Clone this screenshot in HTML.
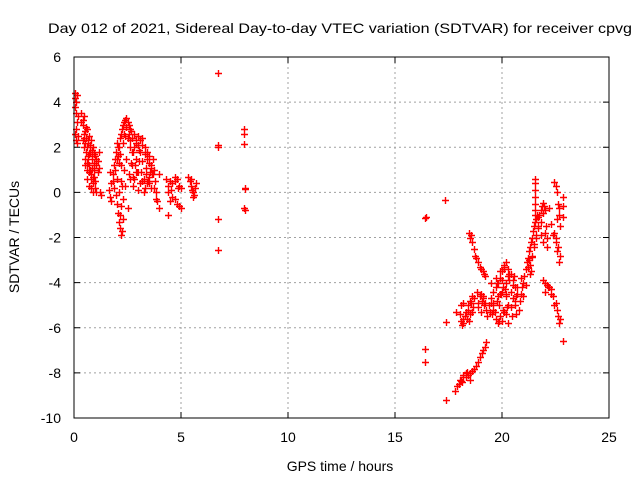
<!DOCTYPE html>
<html><head><meta charset="utf-8"><style>
body{margin:0;background:#fff}
svg{display:block;font-family:"Liberation Sans",sans-serif}
</style></head><body>
<svg id="chart" width="640" height="480">
<rect width="640" height="480" fill="#fff"/>
<text x="340" y="33" text-anchor="middle" font-size="14" textLength="584" lengthAdjust="spacingAndGlyphs">Day 012 of 2021, Sidereal Day-to-day VTEC variation (SDTVAR) for receiver cpvg</text>
<g id="grid"></g>
<g id="ticks"></g>
<g id="marks"></g>
<rect x="74" y="57" width="535" height="361" fill="none" stroke="#000" stroke-width="1"/>
<text x="340" y="471" text-anchor="middle" font-size="14">GPS time / hours</text>
<text x="19" y="237" text-anchor="middle" font-size="14" transform="rotate(-90 19 237)">SDTVAR / TECUs</text>
</svg>
<script>
const xTicks=[0,5,10,15,20,25];
const yTicks=[-10,-8,-6,-4,-2,0,2,4,6];
const hours=[
0.05,0.1,0.15,0.1,0.05,0.1,0.15,0.2,0.05,0.05,0.12,0.18,0.08,
0.35,0.4,0.5,0.55,0.6,0.65,0.7,0.8,0.9,1.0,1.05,0.45,0.5,0.6,0.7,0.8,0.9,1.0,1.1,0.6,0.75,0.85,0.95,1.05,0.5,0.7,0.8,1.2,1.25,0.4,0.55,0.65,0.75,0.85,0.95,1.15,0.45,0.6,0.7,0.9,1.0,
1.65,1.7,1.75,1.8,1.85,1.9,1.95,2.0,2.05,1.7,1.8,1.9,2.0,2.1,1.75,1.85,1.95,2.05,2.15,2.2,
2.0,2.05,2.1,2.15,2.2,2.25,2.3,2.1,2.2,2.3,2.15,2.25,
2.25,2.3,2.35,2.4,2.45,2.5,2.55,2.6,2.3,2.4,2.5,2.6,2.35,2.45,2.55,2.2,2.3,2.4,2.5,2.6,2.7,
2.7,2.8,2.9,3.0,3.1,3.2,3.3,3.4,3.5,3.6,3.7,2.75,2.9,3.05,3.2,3.35,3.5,3.65,2.8,3.0,3.2,3.4,3.6,2.7,2.9,3.1,3.3,3.5,2.75,3.0,3.25,3.5,
3.7,3.75,3.8,3.85,3.9,3.95,3.75,3.85,3.95,
4.3,4.4,4.5,4.6,4.7,4.8,4.9,5.0,4.4,4.55,4.7,4.85,4.5,4.6,4.7,4.8,4.9,5.0,4.4,
5.35,5.4,5.45,5.5,5.55,5.6,5.65,5.7,5.45,5.55,
6.75,6.75,6.75,6.75,6.75,7.95,7.95,7.95,8.0,8.0,7.95,8.0,
16.4,16.45,17.35,16.4,16.4,17.4,17.4,17.83,
17.8,17.9,18.0,18.1,18.2,18.3,18.4,18.5,18.6,18.7,18.8,18.9,18.95,19.05,19.1,19.2,19.25,18.05,18.2,18.35,18.5,18.15,18.3,
18.05,18.1,18.15,18.2,18.3,18.4,18.5,18.6,18.7,18.1,18.25,18.4,18.55,18.65,18.2,18.35,18.5,
18.45,18.5,18.55,18.6,18.7,18.75,18.8,18.9,18.95,19.0,19.1,19.15,19.2,
18.85,18.95,19.05,19.15,19.25,19.3,18.9,19.0,19.1,19.2,
19.4,19.5,19.6,19.7,19.8,19.9,20.0,20.1,20.2,20.3,20.4,20.5,20.6,20.7,19.45,19.6,19.75,19.9,20.05,20.2,20.35,20.5,20.65,19.5,19.7,19.9,20.1,20.3,20.5,19.6,19.8,20.0,20.2,20.4,20.6,19.55,19.75,19.95,20.15,20.35,20.55,20.0,20.1,20.2,19.85,20.3,
20.8,20.85,20.9,20.95,21.0,21.05,21.1,21.15,21.2,21.25,21.3,21.35,21.4,20.9,21.0,21.1,21.2,21.3,
21.25,21.3,21.35,21.4,21.45,21.5,21.55,21.6,21.65,21.7,21.75,21.8,21.85,21.9,21.95,22.0,22.05,22.1,21.4,21.5,21.6,21.7,21.8,21.9,22.0,
21.55,21.55,21.55,21.55,21.55,21.55,21.55,
22.45,22.5,22.55,22.6,22.65,22.7,22.5,22.6,22.7,22.55,22.65,22.45,22.55,22.65,
21.9,22.0,22.1,22.2,22.3,22.4,22.5,22.55,22.6,22.65,22.7,22.0,22.15,22.3,22.45,
22.85,22.85,22.85,22.85,
0.45,0.55,0.65,0.75,0.85,0.95,1.05,0.55,0.65,0.75,0.85,0.95,1.1,0.5,0.6,0.7,0.8,0.9,0.4,0.45,0.35,1.15,
2.0,2.1,2.15,2.2,2.3,2.35,2.45,2.55,2.65,2.6,2.7,2.8,2.9,3.0,3.1,3.2,3.3,3.4,3.5,2.85,2.95,3.05,3.15,3.25,3.35,3.45,3.55,3.6,2.65,2.75,
19.5,19.6,19.7,19.8,19.9,20.0,20.1,20.2,20.3,20.4,20.5,20.6,20.7,19.65,19.85,20.05,20.25,20.45,20.65,18.2,18.3,18.45,18.6,18.9,19.0,19.1,21.7,21.8,21.9,22.0,22.1,21.6,21.5,22.2,22.3,22.4,22.5
];
const sdtvar=[
4.2,4.0,4.3,3.5,2.6,2.3,2.2,3.4,3.8,4.4,3.1,2.5,2.8,
3.5,3.0,2.7,2.4,2.0,1.6,1.2,0.8,0.4,0.2,0.0,2.0,1.5,1.0,2.5,2.3,2.0,1.6,1.4,2.8,1.8,1.5,1.0,1.2,2.2,0.9,0.6,0.0,-0.1,3.2,2.9,2.2,2.0,1.9,1.3,1.1,2.4,1.3,1.7,0.7,0.5,
0.1,-0.2,0.4,0.8,1.2,1.5,1.8,2.2,2.0,0.9,0.5,1.0,0.6,1.3,-0.4,0.2,-0.1,1.6,2.4,2.6,
-0.5,-0.9,-1.3,-1.6,-1.9,-1.7,-1.2,0.0,-0.6,-0.3,-1.0,0.3,
2.8,3.0,3.1,3.2,3.3,3.1,3.0,2.8,2.2,2.5,2.4,2.0,1.0,1.5,0.8,0.5,-0.3,0.3,-0.7,0.6,1.2,
2.4,2.6,2.2,2.5,2.3,2.4,2.0,1.8,1.6,1.2,0.8,1.8,1.5,1.9,1.4,1.1,1.3,0.8,0.6,0.9,0.5,0.4,1.1,1.2,0.9,0.4,0.2,0.7,0.3,0.1,0.0,0.4,
1.5,1.0,0.5,0.0,-0.4,-0.7,0.2,-0.3,0.8,
0.6,0.3,0.5,0.4,0.7,0.6,0.3,0.2,0.0,0.1,0.5,0.2,-0.4,-0.2,-0.3,-0.5,-0.6,-0.7,-1.0,
0.7,0.5,0.3,0.1,0.0,-0.1,0.2,0.4,0.6,-0.2,
5.3,2.1,2.0,-1.2,-2.55,2.8,2.6,2.15,0.2,0.15,-0.7,-0.8,
-1.15,-1.1,-0.35,-6.95,-7.5,-5.76,-9.2,-5.3,
-8.8,-8.6,-8.5,-8.35,-8.2,-8.2,-8.1,-8.0,-7.9,-7.85,-7.7,-7.5,-7.3,-7.1,-7.0,-6.85,-6.65,-8.3,-8.1,-7.95,-8.3,-8.4,-8.0,
-5.4,-5.7,-5.9,-5.6,-5.3,-5.0,-4.8,-4.6,-4.7,-5.0,-5.5,-5.2,-4.9,-5.1,-5.8,-5.6,-5.4,
-1.8,-2.0,-1.9,-2.2,-2.5,-2.8,-2.9,-3.1,-3.3,-3.4,-3.5,-3.6,-3.7,
-4.4,-4.6,-4.8,-5.0,-5.2,-5.5,-5.1,-4.5,-4.7,-4.9,
-5.0,-4.7,-4.4,-4.2,-4.0,-3.8,-3.5,-3.3,-3.1,-3.4,-3.6,-3.9,-4.2,-4.5,-5.3,-5.0,-4.8,-4.5,-4.2,-4.0,-3.6,-4.1,-4.6,-4.9,-5.6,-5.5,-5.3,-5.0,-4.7,-5.2,-5.8,-5.7,-5.4,-5.1,-5.0,-5.4,-4.0,-4.5,-4.3,-3.9,-3.7,-3.9,-3.2,-4.6,-5.7,-5.8,
-5.2,-4.8,-4.5,-4.2,-4.0,-3.7,-3.4,-3.1,-2.9,-3.0,-3.2,-3.5,-2.8,-3.8,-4.6,-4.1,-3.3,-3.6,
-2.6,-2.4,-2.2,-2.0,-1.7,-1.5,-1.3,-1.2,-1.0,-1.1,-1.0,-0.8,-0.6,-0.45,-0.6,-0.8,-1.5,-2.0,-2.85,-2.3,-1.9,-1.6,-1.3,-0.9,-0.8,
0.6,0.4,0.1,-0.2,-0.5,-0.8,-1.0,
0.45,0.3,0.0,-0.5,-1.0,-1.5,-2.0,-2.4,-2.8,-1.2,-0.7,-1.8,-2.6,-3.1,
-3.9,-4.0,-4.1,-4.2,-4.3,-4.6,-4.9,-5.2,-5.5,-5.8,-5.6,-4.4,-4.2,-4.5,-5.0,
-0.2,-0.6,-1.1,-6.6,
2.6,2.9,2.3,2.1,1.8,1.7,1.5,1.8,1.3,1.0,1.1,0.7,0.9,1.2,0.6,0.3,0.2,0.0,2.3,3.4,3.1,1.8,
1.5,2.0,1.7,1.2,2.2,2.6,2.9,2.6,2.7,2.3,1.8,2.0,2.3,2.1,1.8,2.1,1.7,1.5,1.3,1.2,0.9,1.4,0.9,0.6,0.8,0.5,0.9,0.2,1.3,0.7,
-4.0,-4.9,-3.8,-4.6,-3.5,-4.4,-3.4,-4.5,-3.7,-4.4,-3.9,-4.8,-4.2,-5.3,-5.0,-5.2,-5.1,-5.5,-5.4,-4.9,-5.3,-5.7,-5.3,-4.9,-5.3,-4.6,-1.5,-1.9,-2.2,-1.8,-2.4,-2.0,-2.4,-0.7,-1.4,-1.9,-2.2
];
const X0=74,X1=609,Y0=418,Y1=57;
function xs(v){return X0+(v-0)/(25-0)*(X1-X0);}
function ys(v){return Y0-(v-(-10))/(6-(-10))*(Y0-Y1);}
const NS="http://www.w3.org/2000/svg";
const grid=document.getElementById('grid'),ticks=document.getElementById('ticks'),marks=document.getElementById('marks');
xTicks.forEach(t=>{
  const x=xs(t);
  if(t>0&&t<25){const l=document.createElementNS(NS,'line');
  
  
  l.setAttribute('x1',x);l.setAttribute('x2',x);l.setAttribute('y1',Y1);l.setAttribute('y2',Y0);
  l.setAttribute('stroke','#a0a0a0');l.setAttribute('stroke-dasharray','2,3');grid.appendChild(l);}
  const tk=document.createElementNS(NS,'path');
  
  
  tk.setAttribute('d',`M${x},${Y0}v-6M${x},${Y1}v6`);tk.setAttribute('stroke','#000');ticks.appendChild(tk);
  const tx=document.createElementNS(NS,'text');
  
  
  tx.setAttribute('x',x);tx.setAttribute('y',442);tx.setAttribute('text-anchor','middle');tx.setAttribute('font-size','14');
  tx.textContent=t;ticks.appendChild(tx);
});
yTicks.forEach(t=>{
  const y=ys(t);
  if(t>-10&&t<6){const l=document.createElementNS(NS,'line');
  
  
  l.setAttribute('x1',X0);l.setAttribute('x2',X1);l.setAttribute('y1',y);l.setAttribute('y2',y);
  l.setAttribute('stroke','#a0a0a0');l.setAttribute('stroke-dasharray','2,3');grid.appendChild(l);}
  const tk=document.createElementNS(NS,'path');
  
  
  tk.setAttribute('d',`M${X0},${y}h6M${X1},${y}h-6`);tk.setAttribute('stroke','#000');ticks.appendChild(tk);
  const tx=document.createElementNS(NS,'text');
  
  
  tx.setAttribute('x',61);tx.setAttribute('y',y+5);tx.setAttribute('text-anchor','end');tx.setAttribute('font-size','14');
  tx.textContent=t;ticks.appendChild(tx);
});
let d='';
const n=Math.min(hours.length,sdtvar.length);
for(let i=0;i<n;i++){
  const x=Math.round(xs(hours[i]))+0.5,y=Math.round(ys(sdtvar[i]))+0.5;
  d+=`M${x-3.5},${y}h7M${x},${y-3.5}v7`;
}
const p=document.createElementNS(NS,'path');


p.setAttribute('d',d);p.setAttribute('stroke','#ff0000');p.setAttribute('stroke-width','1.4');p.setAttribute('fill','none');
marks.appendChild(p);
</script>
</body></html>
